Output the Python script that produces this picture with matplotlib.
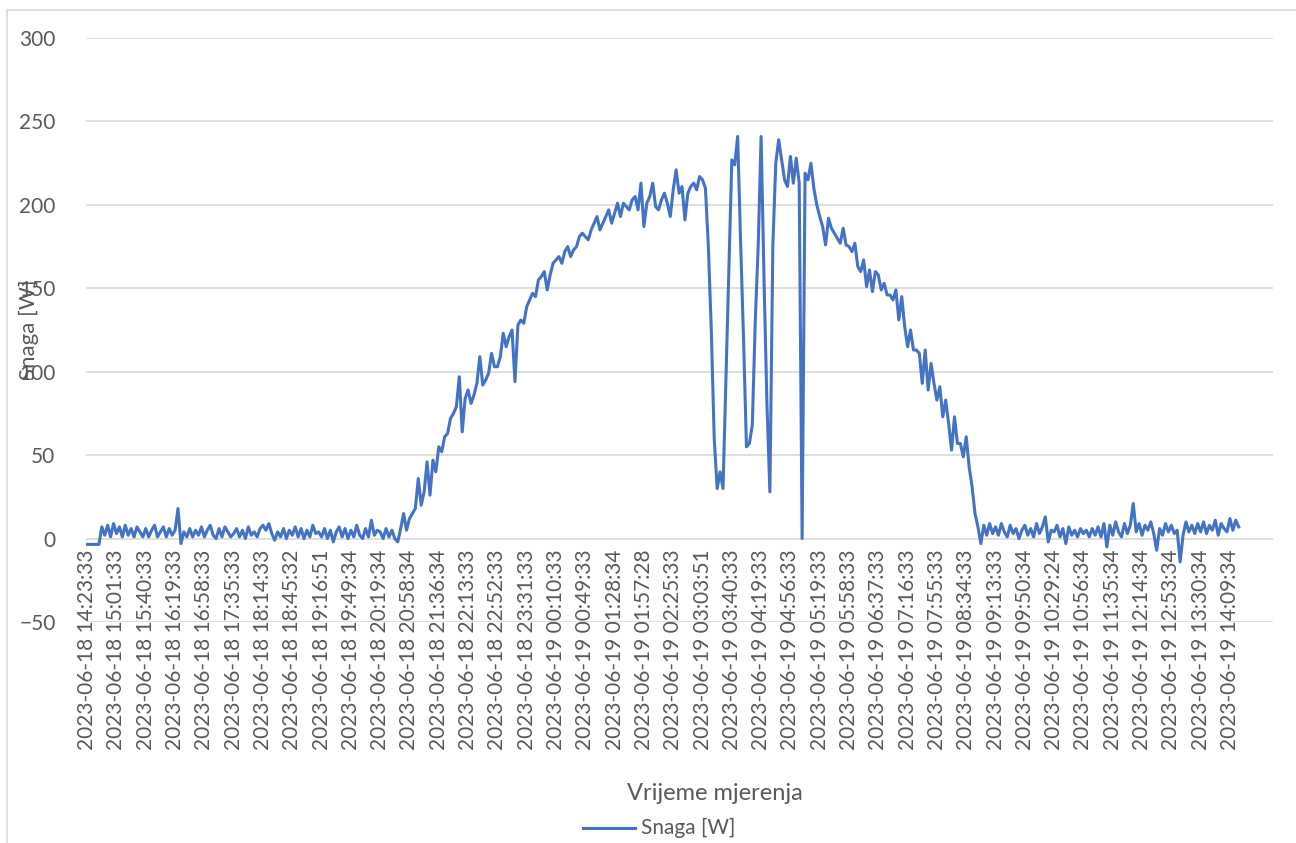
import matplotlib
matplotlib.use("Agg")
import matplotlib.pyplot as plt
import numpy as np
from matplotlib.lines import Line2D
from matplotlib.patches import Rectangle

plt.rcParams['font.family'] = ['Lato', 'DejaVu Sans']

# category labels shown on the axis (every 10th sample)
tick_labels = [
    "2023-06-18 14:23:33", "2023-06-18 15:01:33", "2023-06-18 15:40:33", "2023-06-18 16:19:33",
    "2023-06-18 16:58:33", "2023-06-18 17:35:33", "2023-06-18 18:14:33", "2023-06-18 18:45:32",
    "2023-06-18 19:16:51", "2023-06-18 19:49:34", "2023-06-18 20:19:34", "2023-06-18 20:58:34",
    "2023-06-18 21:36:34", "2023-06-18 22:13:33", "2023-06-18 22:52:33", "2023-06-18 23:31:33",
    "2023-06-19 00:10:33", "2023-06-19 00:49:33", "2023-06-19 01:28:34", "2023-06-19 01:57:28",
    "2023-06-19 02:25:33", "2023-06-19 03:03:51", "2023-06-19 03:40:33", "2023-06-19 04:19:33",
    "2023-06-19 04:56:33", "2023-06-19 05:19:33", "2023-06-19 05:58:33", "2023-06-19 06:37:33",
    "2023-06-19 07:16:33", "2023-06-19 07:55:33", "2023-06-19 08:34:33", "2023-06-19 09:13:33",
    "2023-06-19 09:50:34", "2023-06-19 10:29:24", "2023-06-19 10:56:34", "2023-06-19 11:35:34",
    "2023-06-19 12:14:34", "2023-06-19 12:53:34", "2023-06-19 13:30:34", "2023-06-19 14:09:34",
]
label_step = 10

snaga = [
    -3.5, -3.5, -3.5, -3.5, -3.5, 7, 2, 8, 1, 9,
    3, 7, 1, 8, 2, 6, 1, 7, 4, 1,
    6, 1, 5, 8, 1, 4, 7, 1, 6, 2,
    5, 18, -3, 4, 1, 6, 1, 5, 2, 7,
    1, 5, 8, 2, 0, 6, 1, 7, 4, 1,
    3, 6, 1, 5, 0, 7, 2, 4, 1, 6,
    8, 5, 9, 3, -1, 4, 1, 6, 0, 5,
    2, 7, 1, 6, 0, 5, 1, 8, 3, 4,
    1, 6, 0, 5, -2, 4, 7, 1, 6, 0,
    5, 1, 8, 2, 0, 6, 1, 11, 2, 5,
    4, 0, 6, 1, 5, 0, -2, 6, 15, 5,
    12, 15, 18, 36, 20, 28, 46, 26, 47, 40,
    55, 52, 61, 63, 72, 75, 79, 97, 64, 84,
    89, 81, 86, 93, 109, 92, 95, 99, 111, 103,
    103, 109, 123, 115, 121, 125, 94, 128, 131, 129,
    139, 143, 147, 145, 155, 157, 160, 149, 158, 165,
    167, 169, 165, 172, 175, 169, 173, 175, 181, 183,
    181, 179, 185, 189, 193, 185, 189, 193, 197, 189,
    195, 201, 193, 201, 199, 197, 203, 205, 197, 213,
    187, 201, 205, 213, 199, 197, 203, 207, 201, 193,
    209, 221, 207, 211, 191, 207, 211, 213, 209, 217,
    215, 210, 175, 125, 60, 30, 40, 30, 95, 160,
    227, 224, 241, 178, 120, 55, 57, 68, 130, 175,
    241, 155, 80, 28, 175, 225, 239, 227, 215, 211,
    229, 213, 228, 213, 0, 219, 215, 225, 210, 200,
    193, 187, 176, 192, 186, 183, 180, 177, 186, 176,
    175, 172, 177, 163, 160, 167, 151, 161, 148, 160,
    158, 149, 153, 146, 146, 143, 149, 131, 145, 127,
    115, 125, 113, 113, 111, 93, 113, 89, 105, 93,
    83, 91, 73, 83, 69, 53, 73, 57, 57, 49,
    61, 43, 31, 15, 7, -3, 8, 2, 9, 3,
    7, 2, 9, 4, 1, 8, 3, 6, 0, 5,
    8, 2, 6, 1, 9, 3, 7, 13, -2, 5,
    4, 8, 1, 6, -3, 7, 2, 5, 1, 6,
    3, 5, 1, 6, 2, 7, 1, 9, -5, 8,
    2, 10, 4, 1, 9, 3, 8, 21, 4, 9,
    2, 8, 5, 10, 3, -7, 6, 2, 9, 4,
    8, 3, 5, -14, 2, 10, 4, 8, 3, 9,
    4, 10, 3, 8, 5, 11, 2, 9, 6, 4,
    12, 5, 11, 7,
]

W, H = 1296, 843
fig = plt.figure(figsize=(W / 100, H / 100), dpi=100)
fig.patches.append(Rectangle((7 / W, -0.1), 1.2, 1 - 10 / H + 0.1, transform=fig.transFigure,
                             fill=False, edgecolor='#D9D9D9', linewidth=1.2))

ax = fig.add_axes([86 / W, 1 - 622 / H, (1273 - 86) / W, (622 - 38) / H])

# category labels sit at the zero line, like in Excel (set before the ticks)
ax.spines['bottom'].set_position(('data', 0))
ax.spines['bottom'].set_visible(False)
for s in ['top', 'right', 'left']:
    ax.spines[s].set_visible(False)

x = np.arange(len(snaga))
ax.plot(x, snaga, color='#4472C4', linewidth=2.2, solid_joinstyle='round')

ax.set_ylim(-50, 300)
ax.set_yticks(np.arange(-50, 301, 50))
ax.set_xlim(-0.4, 404.7)
ax.set_xticks(np.arange(len(tick_labels)) * label_step)
ax.set_xticklabels(tick_labels)

ax.grid(axis='y', color='#D9D9D9', linewidth=1.2)
ax.set_axisbelow(True)
ax.tick_params(axis='both', length=0, labelsize=15, labelcolor='#595959')
ax.tick_params(axis='x', pad=8, labelrotation=90)
ax.tick_params(axis='y', pad=22)

fig.text(29 / W, 1 - 330 / H, "Snaga [W]", rotation=90, ha='center', va='center',
         fontsize=16, color='#595959')
fig.text(715 / W, 1 - 793 / H, "Vrijeme mjerenja", ha='center', va='center',
         fontsize=17, color='#595959')

fig.lines.append(Line2D([583 / W, 635 / W], [1 - 828 / H, 1 - 828 / H], transform=fig.transFigure,
                        color='#4472C4', linewidth=2.2))
fig.text(641 / W, 1 - 828 / H, "Snaga [W]", ha='left', va='center', fontsize=15, color='#595959')

fig.savefig("out.png", dpi=100)
